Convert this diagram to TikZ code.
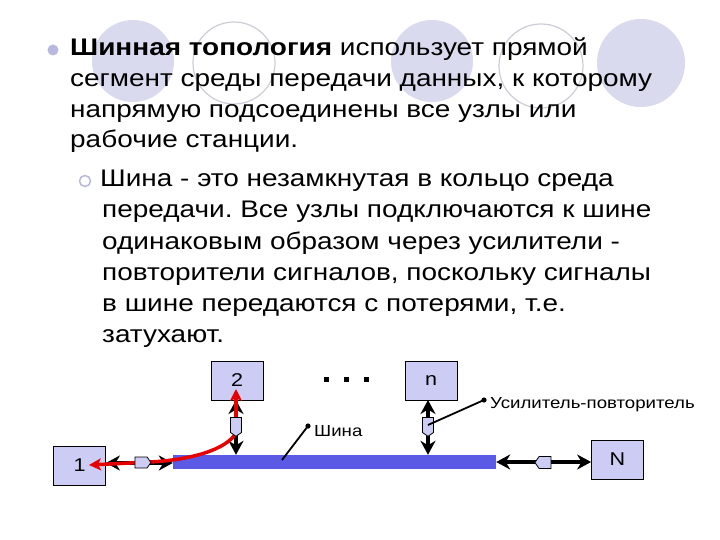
\documentclass[tikz,border=0pt]{standalone}
\usepackage{fontspec}
\setmainfont{Liberation Sans}[FakeStretch=1.165]
\usetikzlibrary{arrows.meta,shapes.symbols}
\definecolor{deco}{RGB}{218,218,238}
\definecolor{decoline}{RGB}{205,205,215}
\definecolor{bul}{RGB}{184,184,224}
\definecolor{boxfill}{RGB}{204,204,244}
\definecolor{busblue}{RGB}{90,90,228}
\definecolor{redline}{RGB}{230,0,0}
\frenchspacing
\begin{document}
\begin{tikzpicture}[x=1pt,y=-1pt,
  bigtext/.style={anchor=base west,inner sep=0pt,font=\fontsize{24}{28}\selectfont},
  smalltext/.style={anchor=base west,inner sep=0pt,font=\fontsize{16}{18}\selectfont},
  station/.style={draw=black,line width=0.8pt,fill=boxfill,minimum width=52pt,minimum height=39pt,inner sep=0pt,font=\fontsize{18.5}{20}\selectfont},
  repeater/.style={draw=black,line width=0.8pt,fill=boxfill,shape=signal,inner sep=0pt,minimum width=11pt,minimum height=15pt,signal pointer angle=110},
  biarrow/.style={line width=3.7pt,{Stealth[length=14pt,width=15pt,inset=4.5pt]}-{Stealth[length=14pt,width=15pt,inset=4.5pt]}},
  redarrow/.style={redline,line width=3.5pt,-{Stealth[length=12pt,width=12pt,inset=3pt]}},
  pointer/.style={line width=1.8pt},
  filledcircle/.style={fill=deco,draw=none},
  opencircle/.style={fill=white,draw=decoline,line width=1.2pt}]
\useasboundingbox[fill=white] (0,0) rectangle (720,540);
% decorative circles
\fill[filledcircle] (133,61) circle (41);
\draw[opencircle] (234,63) circle (41);
\fill[filledcircle] (432,61) circle (41);
\draw[opencircle] (541,66) circle (42);
\fill[filledcircle] (641,63) circle (44);
% bullets
\fill[bul] (53,50) circle (5.5);
\draw[bul,line width=1.5pt] (85,181) circle (5.5);
% text
\node[bigtext] (l1) at (70,56) {\textbf{Шинная топология} использует прямой};
\node[bigtext] (l2) at (70,87) {сегмент среды передачи данных, к которому};
\node[bigtext] (l3) at (70,118) {напрямую подсоединены все узлы или};
\node[bigtext] (l4) at (70,148) {рабочие станции.};
\node[bigtext] (s1) at (100,187) {Шина - это незамкнутая в кольцо среда};
\node[bigtext] (s2) at (102,218) {передачи. Все узлы подключаются к шине};
\node[bigtext] (s3) at (102,249) {одинаковым образом через усилители -};
\node[bigtext] (s4) at (102,280) {повторители сигналов, поскольку сигналы};
\node[bigtext] (s5) at (102,311) {в шине передаются с потерями, т.е.};
\node[bigtext] (s6) at (102,342) {затухают.};
% stations and bus
\node[station] (b2) at (237,380.5) {2};
\node[station] (b1) at (79.5,465.5) {1};
\node[station] (bn) at (431,380.5) {n};
\node[station] (bN) at (617.5,459.5) {N};
\node[fill=busblue,minimum width=323pt,minimum height=14pt,inner sep=0pt] (bus) at (334.5,462) {};
% dots
\fill (323.5,376.5) rectangle ++(5,5);
\fill (343.5,376.5) rectangle ++(5,5);
\fill (363.5,376.5) rectangle ++(5,5);
% links
\coordinate (l1a) at (b1.east |- 0,463);
\draw[biarrow] (l1a) -- (l1a -| bus.west);
\coordinate (l2a) at (236,400);
\draw[biarrow] (l2a) -- (l2a |- bus.north);
\coordinate (lna) at (428,400);
\draw[biarrow] (lna) -- (lna |- bus.north);
\draw[biarrow] (bus.east) -- (bN.west |- bus.east);
% red path
\coordinate (rstart) at (236,433);
\coordinate (rtip1) at (89,465);
\coordinate (rtip2) at (236,389);
\draw[redarrow] (rstart) .. controls (226,450) and (190,460) .. (150,462) -- (rtip1);
\draw[redarrow] (236,418) -- (rtip2);
% repeaters
\node[repeater,signal to=south] (r2) at (236,425) {};
\node[repeater,signal to=south] (rn) at (428,425) {};
\node[repeater,signal to=east,minimum width=16pt,minimum height=11pt] (r1) at (141,462.5) {};
\node[repeater,signal to=west,minimum width=16pt,minimum height=12pt] (rN) at (545,462.5) {};
% labels with pointers
\coordinate (sp1) at (282,460);
\coordinate (sp2) at (308,426);
\draw[pointer] (sp1) -- (sp2);
\fill (sp2) circle (2.6);
\node[smalltext] (shina) at (314,436) {Шина};
\coordinate (up2) at (484,400);
\draw[pointer] (rn.center) -- (up2);
\fill (up2) circle (2.6);
\node[smalltext] (usil) at (490,408) {Усилитель-повторитель};
\end{tikzpicture}
\end{document}
